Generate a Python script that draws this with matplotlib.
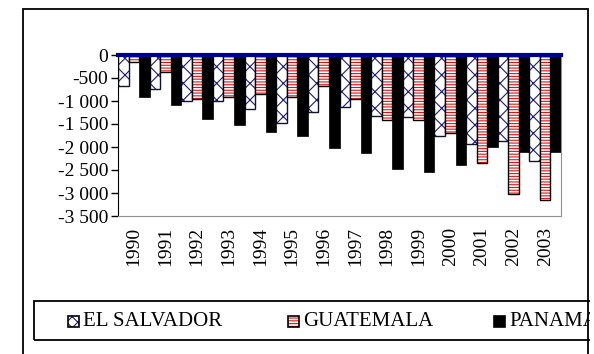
import numpy as np
import matplotlib.pyplot as plt
from matplotlib.patches import Rectangle

years = ['1990', '1991', '1992', '1993', '1994', '1995', '1996',
         '1997', '1998', '1999', '2000', '2001', '2002', '2003']
el_salvador = [-667, -732, -1000, -1000, -1167, -1471, -1239,
               -1123, -1326, -1355, -1761, -1935, -1870, -2297]
guatemala = [-152, -377, -949, -920, -855, -913, -667,
             -949, -1413, -1413, -1703, -2341, -3029, -3152]
panama = [-920, -1087, -1384, -1522, -1667, -1761, -2014,
          -2138, -2478, -2543, -2399, -2007, -2116, -2116]
series_names = ['EL SALVADOR', 'GUATEMALA', 'PANAMA']
y_ticks = [0, -500, -1000, -1500, -2000, -2500, -3000, -3500]

W, H = 594, 354
plt.rcParams['font.family'] = 'Liberation Serif'
plt.rcParams['hatch.linewidth'] = 0.8

fig = plt.figure(figsize=(W / 100, H / 100), dpi=100)


def fx(x):
    return x / W


def fy(y):
    return 1 - y / H


ax = fig.add_axes([fx(118), fy(216), fx(561) - fx(118), fy(55) - fy(216)])

x = np.arange(len(years))
w = 1 / 3

# el salvador: navy cross hatch on white
ax.bar(x - w, el_salvador, w, color='white', edgecolor='#1a1a80', hatch='xx', lw=0)
ax.bar(x - w, el_salvador, w, fill=False, edgecolor='#111133', lw=1.0)
# guatemala: red horizontal stripes
ax.bar(x, guatemala, w, color='white', edgecolor='#e01010', hatch='------', lw=0)
ax.bar(x, guatemala, w, fill=False, edgecolor='black', lw=1.0)
# panama: solid black
ax.bar(x + w, panama, w, color='black', edgecolor='black', lw=0.5)

ax.set_xlim(-0.5, len(years) - 0.5)
ax.set_ylim(-3500, 0)
ax.set_yticks(y_ticks)
ax.set_yticklabels([f'{v:,}'.replace(',', '\u00a0') for v in y_ticks], fontsize=14)
ax.tick_params(axis='y', length=5, width=1, pad=2, direction='out')
ax.set_xticks(x)
ax.set_xticklabels(years, rotation=90, fontsize=14)
ax.tick_params(axis='x', length=0, pad=8)

ax.spines['top'].set_color('#000090')
ax.spines['top'].set_linewidth(3)
ax.spines['left'].set_color('black')
ax.spines['right'].set_color('#909090')
ax.spines['bottom'].set_color('#909090')

# outer chart border
fig.patches.append(Rectangle((fx(23), fy(380)), fx(588) - fx(23), fy(9) - fy(380),
                             transform=fig.transFigure, fill=False,
                             edgecolor='black', lw=1.3))

# legend box and entries
fig.patches.append(Rectangle((fx(34), fy(340)), fx(620) - fx(34), fy(301) - fy(340),
                             transform=fig.transFigure, fill=False,
                             edgecolor='black', lw=1.3))
styles = [dict(facecolor='white', edgecolor='#1a1a80', hatch='xxx'),
          dict(facecolor='white', edgecolor='#e01010', hatch='------'),
          dict(facecolor='black', edgecolor='black')]
marker_x = [68, 288, 494]
for name, mx, st in zip(series_names, marker_x, styles):
    fig.patches.append(Rectangle((fx(mx), fy(327)), fx(11), 11 / H,
                                 transform=fig.transFigure, lw=0, **st))
    fig.patches.append(Rectangle((fx(mx), fy(327)), fx(11), 11 / H,
                                 transform=fig.transFigure, fill=False,
                                 edgecolor='black', lw=1.2))
    fig.text(fx(mx + 15), fy(321), name, fontsize=15, va='center', ha='left')

# chart is cut at its right border
fig.patches.append(Rectangle((fx(589.5), 0), fx(10), 1, transform=fig.transFigure,
                             facecolor='white', edgecolor='none', zorder=10))

fig.savefig('out.png', dpi=100)
